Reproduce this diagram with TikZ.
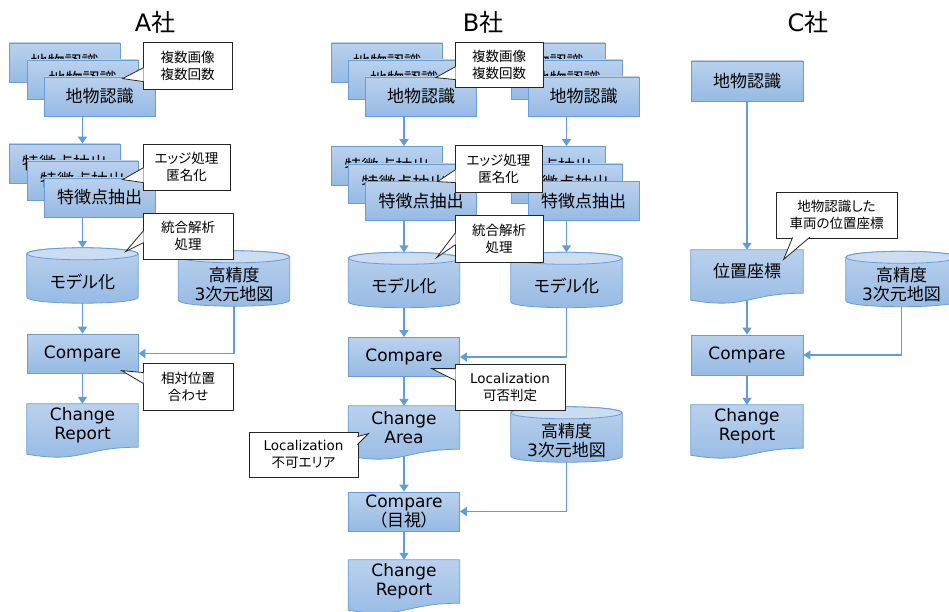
\documentclass[tikz,border=0pt]{standalone}
\usepackage{fontspec}
\setmainfont{Noto Sans CJK JP}[RawFeature=+palt]
\newfontfamily\lafont{DejaVu Sans}
\usetikzlibrary{arrows.meta, calc, backgrounds}
\definecolor{boxtop}{RGB}{186,209,237}
\definecolor{boxbot}{RGB}{150,186,228}
\definecolor{boxline}{RGB}{104,157,214}
\definecolor{disklid}{RGB}{204,221,241}
\definecolor{flowc}{RGB}{98,157,216}

% cylinder and document outlines round a text node
\newcommand{\diskshape}[1]{%
\path[diskbody] ($(#1.north west)+(0,-6)$) -- ($(#1.south west)+(0,-6)$)
  .. controls ($(#1.south west)+(0,2)$) and ($(#1.south east)+(0,2)$) .. ($(#1.south east)+(0,-6)$)
  -- ($(#1.north east)+(0,-6)$)
  .. controls ($(#1.north east)+(0,-14)$) and ($(#1.north west)+(0,-14)$) .. cycle;
\path[disktop] ($(#1.north)+(0,-6)$) ellipse [x radius=55.5, y radius=6];
}
\newcommand{\docshape}[1]{%
\path[docbody] (#1.north west) -- (#1.north east) -- (#1.south east)
  .. controls (#1.south) and ($(#1.south)+(0,16.5)$) .. ($(#1.south west)+(0,7)$) -- cycle;
}

\begin{document}
\begin{tikzpicture}[x=1pt,y=-1pt,
  box/.style={rectangle, draw=boxline, line width=0.8pt, top color=boxtop, bottom color=boxbot,
    minimum width=111pt, minimum height=39pt, inner sep=0pt, align=center, font=\fontsize{17}{19}\selectfont},
  diskbox/.style={rectangle, minimum width=111pt, minimum height=43pt, inner sep=0pt, align=center,
    font=\fontsize{17}{19}\selectfont},
  docbox/.style={diskbox},
  note/.style={rectangle, draw=black!85, fill=white, line width=0.8pt, inner sep=0pt, align=center,
    font=\fontsize{13.5}{17}\selectfont},
  notetip/.style={fill=white, draw=black!85, line width=0.8pt},
  title/.style={font=\fontsize{24}{28}\selectfont},
  flow/.style={draw=flowc, line width=1.5pt, -{Triangle[width=9pt,length=7pt]}},
  diskbody/.style={draw=boxline, line width=0.8pt, top color=boxtop, bottom color=boxbot},
  disktop/.style={draw=boxline, line width=0.8pt, fill=disklid},
  docbody/.style={draw=boxline, line width=0.8pt, top color=boxtop, bottom color=boxbot}]

\useasboundingbox (0,0) rectangle (949,612);

%titles
\node[title] (ta) at (155,22) {{\lafont A}社};
\node[title] (tb) at (483,22) {{\lafont B}社};
\node[title] (tc) at (808,22) {{\lafont C}社};

%A
\node[box] (t1a) at (64.5,62.5) {地物認識};
\node[box] (t1b) at (82.5,79.5) {地物認識};
\node[box] (t1c) at (99.5,96.5) {地物認識};
\node[box] (f1a) at (64.5,163.5) {特徴点抽出};
\node[box] (f1b) at (82.5,180.5) {特徴点抽出};
\node[box] (f1c) at (99.5,197.5) {特徴点抽出};
\node[diskbox] (m1a) at (82.5,281.5) {モデル化};
\node[diskbox] (h1a) at (234,284.5) {高精度\\{\lafont 3}次元地図};
\node[box] (c1a) at (82.5,353.5) {\lafont Compare};
\node[docbox] (r1a) at (82.5,425.5) {\lafont Change\\\lafont Report};

\draw[flow] (t1b.south |- t1c.south) -- (t1b.south |- f1a.north);
\draw[flow] (f1b.south |- f1c.south) -- ($(m1a.north)+(0,-12)$);
\draw[flow] (m1a.south) -- (c1a.north);
\draw[flow] (h1a.south) |- (c1a.east);
\draw[flow] (c1a.south) -- (r1a.north);

\node[note, minimum width=89pt, minimum height=47pt] (n1a) at (187.5,65.5) {複数画像\\複数回数};
\filldraw[notetip] ($(n1a.north west)+(1,26)$) -- ($(n1a.north west)+(-20,37)$) -- ($(n1a.north west)+(1,40)$);
\node[note, minimum width=87pt, minimum height=46pt] (n2a) at (186.5,167) {エッジ処理\\匿名化};
\filldraw[notetip] ($(n2a.north west)+(1,24)$) -- ($(n2a.north west)+(-20,36)$) -- ($(n2a.north west)+(1,39)$);
\node[note, minimum width=90pt, minimum height=46pt] (n3a) at (188,236) {統合解析\\処理};
\filldraw[notetip] ($(n3a.north west)+(1,18)$) -- ($(n3a.north west)+(-17,39)$) -- ($(n3a.north west)+(1,30)$);
\node[note, minimum width=90pt, minimum height=47pt] (n4a) at (188,386.5) {相対位置\\合わせ};
\filldraw[notetip] ($(n4a.north west)+(1,10)$) -- ($(n4a.north west)+(-21,8)$) -- ($(n4a.north west)+(1,21)$);

%B
\node[box] (t2a) at (387,62.5) {地物認識};
\node[box] (t2b) at (404,79.5) {地物認識};
\node[box] (t2c) at (421,96.5) {地物認識};
\node[box] (s2a) at (549.5,62.5) {地物認識};
\node[box] (s2b) at (566.5,79.5) {地物認識};
\node[box] (s2c) at (583.5,96.5) {地物認識};
\node[box] (g2a) at (387,166) {特徴点抽出};
\node[box] (g2b) at (404,183.5) {特徴点抽出};
\node[box] (g2c) at (421,201) {特徴点抽出};
\node[box] (u2a) at (549.5,166) {特徴点抽出};
\node[box] (u2b) at (566.5,183.5) {特徴点抽出};
\node[box] (u2c) at (583.5,201) {特徴点抽出};
\node[diskbox] (m2a) at (404,286) {モデル化};
\node[diskbox] (m2b) at (566.5,286) {モデル化};
\node[box] (c2a) at (404,357) {\lafont Compare};
\node[docbox] (a2) at (404,427.5) {\lafont Change\\\lafont Area};
\node[diskbox] (h2) at (566.5,440.5) {高精度\\{\lafont 3}次元地図};
\node[box] (c2b) at (404,511.5) {\lafont Compare\\（目視）};
\node[docbox] (r2) at (404,581.5) {\lafont Change\\\lafont Report};

\draw[flow] (t2b.south |- t2c.south) -- (t2b.south |- g2a.north);
\draw[flow] (s2b.south |- s2c.south) -- (s2b.south |- u2a.north);
\draw[flow] (g2b.south |- g2c.south) -- ($(m2a.north)+(0,-12)$);
\draw[flow] (u2b.south |- u2c.south) -- ($(m2b.north)+(0,-12)$);
\draw[flow] (m2a.south) -- (c2a.north);
\draw[flow] (m2b.south) |- (c2a.east);
\draw[flow] (c2a.south) -- (a2.north);
\draw[flow] ($(a2.south)+(0,7)$) -- (c2b.north);
\draw[flow] (h2.south) |- (c2b.east);
\draw[flow] (c2b.south) -- (r2.north);

\node[note, minimum width=88pt, minimum height=45pt] (n1b) at (499,64.5) {複数画像\\複数回数};
\filldraw[notetip] ($(n1b.north west)+(1,25)$) -- ($(n1b.north west)+(-19,36)$) -- ($(n1b.north west)+(1,38)$);
\node[note, minimum width=87pt, minimum height=47pt] (n2b) at (498.5,168.5) {エッジ処理\\匿名化};
\filldraw[notetip] ($(n2b.north west)+(1,25)$) -- ($(n2b.north west)+(-17,37)$) -- ($(n2b.north west)+(1,38)$);
\node[note, minimum width=88pt, minimum height=47pt] (n3b) at (499,238.5) {統合解析\\処理};
\filldraw[notetip] ($(n3b.north west)+(1,18)$) -- ($(n3b.north west)+(-18,43)$) -- ($(n3b.north west)+(1,30)$);
\node[note, minimum width=110pt, minimum height=46pt] (n4b) at (510,387) {\lafont Localization\\可否判定};
\filldraw[notetip] ($(n4b.north west)+(1,5)$) -- ($(n4b.north west)+(-23,5)$) -- ($(n4b.north west)+(1,17)$);
\node[note, minimum width=109pt, minimum height=45pt] (n5b) at (303.5,454.5) {\lafont Localization\\不可エリア};
\filldraw[notetip] ($(n5b.north east)+(-1,5)$) -- ($(n5b.north east)+(10,2)$) -- ($(n5b.north east)+(-1,13)$);

%C
\node[box, minimum width=112pt, minimum height=40pt] (t3) at (747,81) {地物認識};
\node[docbox, minimum width=112pt] (p3) at (747,271.5) {位置座標};
\node[diskbox] (h3) at (901.5,285) {高精度\\{\lafont 3}次元地図};
\node[box, minimum width=112pt, minimum height=40pt] (c3) at (747,355) {\lafont Compare};
\node[docbox, minimum width=112pt] (r3) at (747,426.5) {\lafont Change\\\lafont Report};

\draw[flow] (t3.south) -- (p3.north);
\draw[flow] ($(p3.south)+(0,7)$) -- (c3.north);
\draw[flow] (h3.south) |- (c3.east);
\draw[flow] (c3.south) -- (r3.north);

\node[note, minimum width=121pt, minimum height=46pt] (n1c) at (836.5,215) {地物認識した\\車両の位置座標};
\filldraw[notetip] ($(n1c.south west)+(17,-1)$) -- ($(n1c.south west)+(8,21)$) -- ($(n1c.south west)+(34,-1)$);

%outlines behind the texts
\begin{scope}[on background layer]
\diskshape{m1a} \diskshape{h1a} \docshape{r1a}
\diskshape{m2a} \diskshape{m2b} \diskshape{h2} \docshape{a2} \docshape{r2}
\docshape{p3} \diskshape{h3} \docshape{r3}
\end{scope}
\end{tikzpicture}
\end{document}
